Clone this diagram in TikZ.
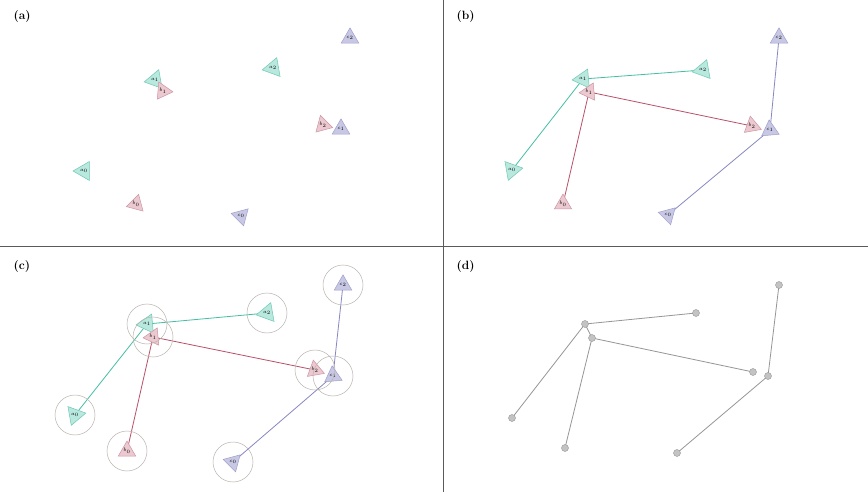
\documentclass[tikz,border=0pt]{standalone}
\usetikzlibrary{shapes.geometric,backgrounds}

\definecolor{tealline}{RGB}{70,190,165}
\definecolor{tealedge}{RGB}{110,200,180}
\definecolor{tealfill}{RGB}{185,232,222}
\definecolor{pinkline}{RGB}{185,80,105}
\definecolor{pinkedge}{RGB}{205,150,165}
\definecolor{pinkfill}{RGB}{236,200,208}
\definecolor{purpline}{RGB}{135,135,195}
\definecolor{purpedge}{RGB}{160,160,205}
\definecolor{purpfill}{RGB}{200,200,228}
\definecolor{rule}{RGB}{90,90,90}
\definecolor{ring}{RGB}{185,180,175}
\definecolor{graylink}{RGB}{150,150,150}
\definecolor{graydot}{RGB}{195,195,195}

\tikzset{
  tri/.style={regular polygon, regular polygon sides=3, minimum size=15pt,
    inner sep=0pt, line width=0.5pt, regular polygon rotate=#1,
    font=\fontsize{3.5}{4}\selectfont},
  tri/.default=0,
  ta/.style={tri=#1, draw=tealedge, fill=tealfill},
  ta/.default=0,
  tb/.style={tri=#1, draw=pinkedge, fill=pinkfill},
  tb/.default=0,
  tc/.style={tri=#1, draw=purpedge, fill=purpfill},
  tc/.default=0,
  linka/.style={draw=tealline, line width=0.8pt},
  linkb/.style={draw=pinkline, line width=0.8pt},
  linkc/.style={draw=purpline, line width=0.8pt},
  zone/.style={circle, draw=ring, line width=0.5pt, minimum size=40pt, inner sep=0pt},
  joint/.style={circle, draw=graylink, fill=graydot, line width=0.4pt, minimum size=7pt, inner sep=0pt},
  graylnk/.style={draw=graylink, line width=0.8pt},
  panel/.style={font=\fontsize{12}{14}\selectfont\bfseries, anchor=west},
  divider/.style={draw=rule, line width=0.6pt},
}

\begin{document}
\begin{tikzpicture}[x=1pt, y=-1pt]
  \useasboundingbox (0,0) rectangle (868,492);
  \begin{pgfonlayer}{background}
    \fill[white] (0,0) rectangle (868,492);
  \end{pgfonlayer}

  % quadrant dividers
  \coordinate (vtop) at (443,0);
  \coordinate (vbot) at (443,492);
  \coordinate (hleft) at (0,246);
  \coordinate (hright) at (868,246);
  \draw[divider] (vtop) -- (vbot);
  \draw[divider] (hleft) -- (hright);

  % panel labels
  \node[panel] (la) at (10,17) {(a)};
  \node[panel] (lb) at (453,17) {(b)};
  \node[panel] (lc) at (10,267) {(c)};
  \node[panel] (ld) at (453,267) {(d)};

  % (a) scattered markers
  \node[ta=-30] (Aa0) at (84,171) {$a_0$};
  \node[ta=100] (Aa1) at (155,80) {$a_1$};
  \node[ta=-20] (Aa2) at (273,68) {$a_2$};
  \node[tb=-15] (Ab0) at (136,204) {$b_0$};
  \node[tb=-95] (Ab1) at (163,91) {$b_1$};
  \node[tb=15]  (Ab2) at (323,125) {$b_2$};
  \node[tc=-45] (Ac0) at (241,216) {$c_0$};
  \node[tc=0]   (Ac1) at (341,129) {$c_1$};
  \node[tc=0]   (Ac2) at (350,38) {$c_2$};

  % (b) markers linked into chains
  \node[ta=160] (Ba0) at (512,170) {$a_0$};
  \node[ta=95]  (Ba1) at (583,79) {$a_1$};
  \node[ta=-20] (Ba2) at (703,70) {$a_2$};
  \node[tb=0]   (Bb0) at (563,204) {$b_0$};
  \node[tb=95]  (Bb1) at (589,92) {$b_1$};
  \node[tb=10]  (Bb2) at (752,126) {$b_2$};
  \node[tc=-45] (Bc0) at (668,215) {$c_0$};
  \node[tc=5]   (Bc1) at (770,130) {$c_1$};
  \node[tc=0]   (Bc2) at (779,38) {$c_2$};
  \begin{pgfonlayer}{background}
    \draw[linka] (Ba0.center) -- (Ba1.center) -- (Ba2.center);
    \draw[linkb] (Bb0.center) -- (Bb1.center) -- (Bb2.center);
    \draw[linkc] (Bc0.center) -- (Bc1.center) -- (Bc2.center);
  \end{pgfonlayer}

  % (c) chains with a tolerance ring round every marker
  \node[ta=160] (Ca0) at (75,415) {$a_0$};
  \node[ta=95]  (Ca1) at (147,324) {$a_1$};
  \node[ta=-20] (Ca2) at (267,313) {$a_2$};
  \node[tb=0]   (Cb0) at (127,451) {$b_0$};
  \node[tb=95]  (Cb1) at (153,337) {$b_1$};
  \node[tb=10]  (Cb2) at (315,370) {$b_2$};
  \node[tc=-45] (Cc0) at (233,462) {$c_0$};
  \node[tc=5]   (Cc1) at (333,376) {$c_1$};
  \node[tc=0]   (Cc2) at (343,285) {$c_2$};
  \foreach \n in {a0,a1,a2,b0,b1,b2,c0,c1,c2}
    \node[zone] (R\n) at (C\n.center) {};
  \begin{pgfonlayer}{background}
    \draw[linka] (Ca0.center) -- (Ca1.center) -- (Ca2.center);
    \draw[linkb] (Cb0.center) -- (Cb1.center) -- (Cb2.center);
    \draw[linkc] (Cc0.center) -- (Cc1.center) -- (Cc2.center);
  \end{pgfonlayer}

  % (d) resulting skeleton
  \node[joint] (Da0) at (512,418) {};
  \node[joint] (Da1) at (585,324) {};
  \node[joint] (Da2) at (696,313) {};
  \node[joint] (Db0) at (565,448) {};
  \node[joint] (Db1) at (592,338) {};
  \node[joint] (Db2) at (753,372) {};
  \node[joint] (Dc0) at (677,453) {};
  \node[joint] (Dc1) at (768,376) {};
  \node[joint] (Dc2) at (779,285) {};
  \begin{pgfonlayer}{background}
    \draw[graylnk] (Da0.center) -- (Da1.center) -- (Da2.center);
    \draw[graylnk] (Db0.center) -- (Db1.center) -- (Db2.center);
    \draw[graylnk] (Dc0.center) -- (Dc1.center) -- (Dc2.center);
    \draw[graylnk] (Da1.center) -- (Db1.center);
  \end{pgfonlayer}
\end{tikzpicture}
\end{document}
